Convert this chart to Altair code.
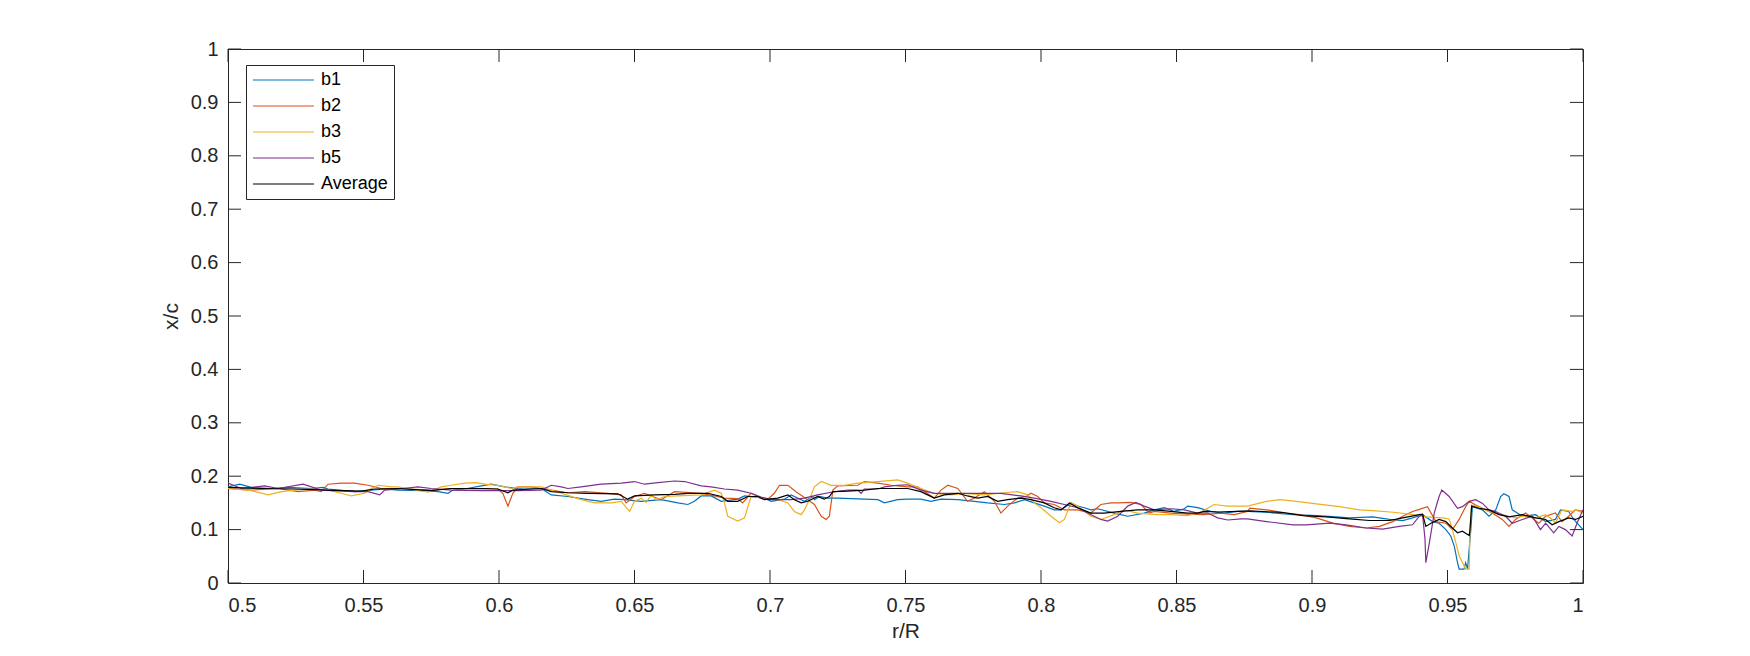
import altair as alt
import pandas as pd

# ---------------- data ----------------
series_names = ["b1", "b2", "b3", "b5", "Average"]
series_colors = ["#0072BD", "#D95319", "#EDB120", "#7E2F8E", "#000000"]

x_ticks = [0.5, 0.55, 0.6, 0.65, 0.7, 0.75, 0.8, 0.85, 0.9, 0.95, 1.0]
y_ticks = [0, 0.1, 0.2, 0.3, 0.4, 0.5, 0.6, 0.7, 0.8, 0.9, 1.0]

b1_r = [0.5, 0.5043, 0.5086, 0.516, 0.5221, 0.5308, 0.5351, 0.5369, 0.5467, 0.5529, 0.5578,
        0.5627, 0.5725, 0.5775, 0.5812, 0.583, 0.5873, 0.5935, 0.5971, 0.6021, 0.607, 0.6094, 0.6156, 0.6193, 0.6254,
        0.6328, 0.6377, 0.6426, 0.6463, 0.6525, 0.6598, 0.666, 0.6697, 0.6721, 0.6746, 0.6783, 0.682, 0.6881,
        0.6906, 0.6979, 0.7004, 0.7053, 0.7078, 0.7127, 0.7158, 0.7164, 0.7182, 0.7213, 0.725, 0.7348, 0.7398, 0.7422, 0.7471, 0.7508,
        0.7557, 0.7594, 0.7631, 0.7693, 0.7754, 0.7803, 0.7865, 0.7902, 0.7939, 0.7975, 0.8012, 0.8049, 0.8074, 0.8111, 0.8135,
        0.816, 0.8184, 0.8209, 0.827, 0.832, 0.8381, 0.8418, 0.8455, 0.8492, 0.8529, 0.8541, 0.8578, 0.8627, 0.8676, 0.8725, 0.8762,
        0.8844, 0.893, 0.9016, 0.9089, 0.9138, 0.9224, 0.9286, 0.9335, 0.9371, 0.9408,
        0.9445, 0.9469, 0.9494, 0.9512, 0.9525, 0.9537, 0.9543, 0.9561, 0.9567, 0.9574,
        0.9586, 0.9592, 0.9629, 0.9653, 0.9678, 0.9696, 0.9708, 0.9727, 0.9739, 0.9776,
        0.9825, 0.9862, 0.9898, 0.9917, 0.9947, 0.9966, 1.0]
b1_v = [0.180, 0.185, 0.179, 0.177, 0.179, 0.177, 0.179, 0.176, 0.171, 0.174, 0.176,
        0.174, 0.173, 0.171, 0.168, 0.174, 0.176, 0.182, 0.185, 0.180, 0.177, 0.176, 0.177, 0.165, 0.162,
        0.156, 0.153, 0.157, 0.156, 0.153, 0.156, 0.150, 0.147, 0.153, 0.163, 0.163, 0.153, 0.157,
        0.163, 0.159, 0.153, 0.157, 0.165, 0.153, 0.162, 0.156, 0.162, 0.159, 0.159, 0.157, 0.156, 0.150, 0.156, 0.157,
        0.157, 0.153, 0.157, 0.156, 0.153, 0.150, 0.147, 0.150, 0.156, 0.150, 0.144, 0.137, 0.137, 0.150, 0.144,
        0.141, 0.137, 0.139, 0.131, 0.125, 0.131, 0.137, 0.141, 0.134, 0.139, 0.144, 0.141, 0.134, 0.131, 0.134, 0.134,
        0.132, 0.128, 0.126, 0.124, 0.122, 0.124, 0.119, 0.117, 0.122, 0.128,
        0.115, 0.112, 0.100, 0.088, 0.069, 0.038, 0.026, 0.026, 0.038, 0.026,
        0.100, 0.143, 0.137, 0.125, 0.137, 0.162, 0.167, 0.162, 0.137, 0.125,
        0.128, 0.115, 0.119, 0.137, 0.134, 0.119, 0.100]

b2_r = [0.5, 0.5086, 0.5185, 0.5258, 0.532, 0.5344, 0.5369, 0.5418, 0.5467, 0.5517, 0.5566,
        0.5627, 0.575, 0.5824, 0.5935, 0.5996, 0.6014, 0.6033, 0.6051, 0.607, 0.6119, 0.6156, 0.6205, 0.6254,
        0.6316, 0.6402, 0.6451, 0.6469, 0.65, 0.6537, 0.6598, 0.6648, 0.6746, 0.6795, 0.6832, 0.6881,
        0.6899, 0.693, 0.6967, 0.6992, 0.7016, 0.7035, 0.7066, 0.7096, 0.7139, 0.7164, 0.7189, 0.7207, 0.7219, 0.7232,
        0.725, 0.7324, 0.7348, 0.7398, 0.7447, 0.7508,
        0.7545, 0.7606, 0.7631, 0.7656, 0.7693, 0.7729, 0.7754, 0.7791, 0.7828, 0.7852, 0.7877, 0.7914, 0.7945,
        0.7963, 0.7988, 0.8012, 0.8049, 0.8086, 0.8135,
        0.8184, 0.8221, 0.8258, 0.8283, 0.8332, 0.8369, 0.8399, 0.8418, 0.8479, 0.8541, 0.8602, 0.8664, 0.8713, 0.8762,
        0.8771, 0.8832, 0.8906, 0.8955, 0.9016, 0.9077, 0.9138, 0.92, 0.9249, 0.9298,
        0.9335, 0.9371, 0.9396, 0.9426, 0.9457, 0.9494, 0.9518, 0.9543, 0.9567, 0.958,
        0.9604, 0.9641, 0.9665, 0.9702, 0.9727, 0.9751, 0.9788, 0.9837, 0.9862, 0.9898,
        0.9923, 0.9947, 0.9972, 1.0]
b2_v = [0.177, 0.174, 0.177, 0.171, 0.174, 0.171, 0.185, 0.187, 0.187, 0.183, 0.177,
        0.177, 0.174, 0.177, 0.176, 0.176, 0.168, 0.144, 0.168, 0.180, 0.180, 0.177, 0.173, 0.169,
        0.171, 0.168, 0.165, 0.150, 0.162, 0.168, 0.156, 0.171, 0.168, 0.163, 0.159, 0.158,
        0.150, 0.168, 0.159, 0.157, 0.168, 0.183, 0.183, 0.171, 0.156, 0.147, 0.125, 0.119, 0.125, 0.174,
        0.182, 0.183, 0.190, 0.187, 0.183, 0.180,
        0.180, 0.159, 0.174, 0.183, 0.177, 0.153, 0.159, 0.171, 0.153, 0.131, 0.144, 0.159, 0.162,
        0.168, 0.162, 0.150, 0.147, 0.137, 0.137,
        0.131, 0.147, 0.150, 0.150, 0.151, 0.147, 0.131, 0.134, 0.131, 0.129, 0.128, 0.131, 0.128, 0.134,
        0.140, 0.137, 0.131, 0.128, 0.122, 0.112, 0.106, 0.103, 0.106, 0.115,
        0.125, 0.134, 0.138, 0.143, 0.115, 0.112, 0.100, 0.119, 0.143, 0.153,
        0.146, 0.137, 0.131, 0.119, 0.106, 0.119, 0.131, 0.112, 0.125, 0.131,
        0.115, 0.125, 0.137, 0.134]

b3_r = [0.5, 0.5086, 0.5148, 0.5197, 0.5246, 0.5308, 0.5369, 0.5418, 0.5455, 0.5504, 0.5529, 0.5554, 0.5603,
        0.5627, 0.5738, 0.5787, 0.5824, 0.5873, 0.5916, 0.5947, 0.5996, 0.6045, 0.607, 0.6156, 0.6193, 0.623,
        0.6254, 0.6303, 0.6352, 0.6414, 0.6451, 0.6482, 0.65, 0.6525, 0.6543, 0.6562, 0.658, 0.6611, 0.666,
        0.6746, 0.6795, 0.682, 0.6832, 0.6844, 0.6881,
        0.6906, 0.693, 0.6979, 0.7029, 0.7066, 0.709, 0.7115, 0.7127, 0.7145, 0.7164, 0.7189, 0.7225, 0.7275,
        0.7324, 0.7398, 0.7471, 0.7508,
        0.7557, 0.7606, 0.7668, 0.7717, 0.7791, 0.7865, 0.7914, 0.7951, 0.7975, 0.8, 0.8037, 0.8068, 0.8086,
        0.8111, 0.8135,
        0.8184, 0.8221, 0.827, 0.8307, 0.8356, 0.843, 0.8479, 0.8541, 0.859, 0.8639, 0.8688, 0.8762,
        0.8832, 0.8881, 0.8942, 0.9016, 0.9102, 0.9175, 0.9237, 0.931, 0.9371, 0.942,
        0.9482, 0.9506, 0.9518, 0.9531, 0.9543, 0.9567, 0.958, 0.9583, 0.9589, 0.9629,
        0.9653, 0.9702, 0.9751, 0.9776, 0.9825, 0.9862, 0.9886, 0.9898, 0.9923, 0.996,
        0.9972, 1.0]
b3_v = [0.177, 0.173, 0.165, 0.171, 0.174, 0.176, 0.174, 0.168, 0.163, 0.168, 0.177, 0.183, 0.180,
        0.180, 0.170, 0.180, 0.183, 0.187, 0.188, 0.185, 0.183, 0.177, 0.180, 0.180, 0.174, 0.168,
        0.164, 0.156, 0.150, 0.150, 0.153, 0.134, 0.153, 0.159, 0.151, 0.165, 0.156, 0.162, 0.163,
        0.165, 0.174, 0.168, 0.150, 0.125, 0.116,
        0.122, 0.162, 0.159, 0.156, 0.150, 0.134, 0.128, 0.137, 0.156, 0.180, 0.190, 0.183, 0.183,
        0.187, 0.190, 0.193, 0.187,
        0.177, 0.168, 0.165, 0.168, 0.165, 0.169, 0.171, 0.165, 0.150, 0.141, 0.125, 0.113, 0.119,
        0.150, 0.144,
        0.125, 0.119, 0.128, 0.137, 0.131, 0.128, 0.128, 0.126, 0.133, 0.147, 0.144, 0.144,
        0.153, 0.156, 0.153, 0.148, 0.143, 0.137, 0.135, 0.132, 0.128, 0.124,
        0.122, 0.120, 0.100, 0.075, 0.051, 0.026, 0.026, 0.100, 0.146, 0.140,
        0.134, 0.128, 0.122, 0.125, 0.122, 0.128, 0.119, 0.112, 0.137, 0.134,
        0.137, 0.131]

b5_r = [0.5, 0.5049, 0.5135, 0.5185, 0.5277, 0.5344, 0.5467, 0.5517, 0.556, 0.5578, 0.5627,
        0.5701, 0.575, 0.5824, 0.5935, 0.607, 0.6156, 0.6193, 0.623, 0.6254,
        0.6303, 0.6377, 0.6451, 0.65, 0.6537, 0.6586, 0.6648, 0.6685, 0.6746, 0.6783, 0.6832, 0.6881,
        0.693, 0.6967, 0.7004, 0.7078, 0.7127, 0.7176, 0.7225, 0.7287, 0.7324, 0.7336, 0.7348, 0.7398,
        0.7422, 0.7471, 0.7508,
        0.7557, 0.7606, 0.7693, 0.7791, 0.7852, 0.7926, 0.7975, 0.8037, 0.8086, 0.8135,
        0.8172, 0.8221, 0.8246, 0.8283, 0.832, 0.835, 0.8381, 0.8418, 0.8479, 0.8529, 0.8578, 0.8615,
        0.8652, 0.8689, 0.8738, 0.8762,
        0.8832, 0.893, 0.8979, 0.9065, 0.9126, 0.92, 0.9261, 0.9322, 0.9371, 0.9396,
        0.9408, 0.9417, 0.942, 0.9433, 0.9451, 0.9469, 0.9479, 0.9506, 0.9537, 0.9555,
        0.958, 0.9604, 0.9629, 0.9653, 0.9678, 0.9714, 0.9739, 0.9776, 0.9813, 0.9843,
        0.9862, 0.9892, 0.9911, 0.9935, 0.996, 0.9978, 1.0]
b5_v = [0.187, 0.177, 0.182, 0.177, 0.185, 0.174, 0.171, 0.171, 0.165, 0.174, 0.176,
        0.180, 0.177, 0.174, 0.173, 0.173, 0.174, 0.183, 0.180, 0.177,
        0.180, 0.185, 0.187, 0.190, 0.185, 0.188, 0.191, 0.190, 0.182, 0.180, 0.176, 0.174,
        0.168, 0.161, 0.156, 0.156, 0.159, 0.165, 0.170, 0.174, 0.174, 0.168, 0.176, 0.176,
        0.180, 0.183, 0.184,
        0.174, 0.168, 0.168, 0.168, 0.168, 0.163, 0.159, 0.153, 0.147, 0.141,
        0.131, 0.119, 0.116, 0.125, 0.144, 0.151, 0.144, 0.137, 0.139, 0.137, 0.131, 0.131,
        0.122, 0.118, 0.120, 0.120,
        0.115, 0.109, 0.109, 0.112, 0.109, 0.103, 0.101, 0.106, 0.109, 0.125,
        0.128, 0.082, 0.038, 0.075, 0.131, 0.162, 0.174, 0.162, 0.140, 0.143,
        0.153, 0.156, 0.149, 0.137, 0.134, 0.125, 0.112, 0.119, 0.125, 0.100,
        0.112, 0.094, 0.106, 0.100, 0.088, 0.112, 0.137]

avg_r = [0.5, 0.5123, 0.5246, 0.5369, 0.5492, 0.5541, 0.5627,
         0.575, 0.5824, 0.5947, 0.5996, 0.6033, 0.6051, 0.6119, 0.6156, 0.6193, 0.6254,
         0.6328, 0.6439, 0.6475, 0.65, 0.6574, 0.6648, 0.6697, 0.6771, 0.682, 0.6844, 0.6881,
         0.6918, 0.6955, 0.6979, 0.7029, 0.7066, 0.709, 0.7115, 0.7139, 0.7176, 0.72, 0.7219, 0.7232,
         0.7287, 0.7348, 0.7398, 0.7508,
         0.7557, 0.7606, 0.7643, 0.7693, 0.7729, 0.7766, 0.7803, 0.784, 0.7877, 0.7926, 0.7963, 0.8012,
         0.8049, 0.8074, 0.8105, 0.8135,
         0.8184, 0.8233, 0.8295, 0.8356, 0.8418, 0.8479, 0.8541, 0.8578, 0.8602, 0.8652, 0.8725,
         0.8771, 0.8893, 0.8967, 0.9053, 0.9138, 0.9212, 0.9286, 0.9335, 0.9396, 0.9408,
         0.942, 0.9439, 0.9469, 0.9494, 0.9518, 0.9537, 0.9555, 0.958, 0.9583, 0.9589,
         0.9616, 0.9653, 0.969, 0.9727, 0.9776, 0.9825, 0.9862, 0.9886, 0.9911, 0.9947,
         0.9972, 1.0]
avg_v = [0.179, 0.177, 0.176, 0.174, 0.172, 0.176, 0.177,
         0.173, 0.177, 0.177, 0.176, 0.169, 0.174, 0.176, 0.177, 0.171, 0.169,
         0.168, 0.167, 0.157, 0.163, 0.165, 0.166, 0.168, 0.168, 0.162, 0.153, 0.153,
         0.162, 0.162, 0.156, 0.159, 0.165, 0.156, 0.150, 0.153, 0.162, 0.157, 0.162, 0.171,
         0.172, 0.174, 0.177, 0.177,
         0.171, 0.159, 0.165, 0.168, 0.163, 0.159, 0.162, 0.153, 0.156, 0.159, 0.156, 0.150,
         0.141, 0.137, 0.150, 0.141,
         0.131, 0.131, 0.134, 0.137, 0.137, 0.134, 0.131, 0.131, 0.134, 0.133, 0.134,
         0.135, 0.132, 0.126, 0.124, 0.120, 0.117, 0.117, 0.122, 0.128, 0.129,
         0.106, 0.112, 0.119, 0.115, 0.103, 0.094, 0.097, 0.089, 0.100, 0.144,
         0.140, 0.137, 0.128, 0.124, 0.128, 0.122, 0.119, 0.109, 0.115, 0.122,
         0.119, 0.125]

# ---------------- build the table ----------------
rows = []
for name, rs, vs in [("b1", b1_r, b1_v), ("b2", b2_r, b2_v), ("b3", b3_r, b3_v),
                     ("b5", b5_r, b5_v), ("Average", avg_r, avg_v)]:
    for r, v in zip(rs, vs, strict=True):
        rows.append({"r": r, "v": v, "series": name})
df = pd.DataFrame(rows)

W, H = 1355, 534
TICK = 13
AXIS_COLOR = "#262626"
FONT = "Liberation Sans"

xscale = alt.Scale(domain=[0.5, 1.0], nice=False, zero=False)
yscale = alt.Scale(domain=[0.0, 1.0], nice=False, zero=False)

x_axis = alt.Axis(values=x_ticks, format="~g", title="r/R", tickSize=0,
                  domain=False, grid=False, labelPadding=12, titlePadding=5,
                  labelFontSize=20, titleFontSize=21)
y_axis = alt.Axis(values=y_ticks, format="~g", title="x/c", tickSize=0,
                  domain=False, grid=False, labelPadding=10, titlePadding=9,
                  labelFontSize=20, titleFontSize=21)

lines = alt.Chart(df).mark_line(strokeWidth=1.2, clip=True).encode(
    x=alt.X("r:Q", scale=xscale, axis=x_axis),
    y=alt.Y("v:Q", scale=yscale, axis=y_axis),
    color=alt.Color("series:N",
                    scale=alt.Scale(domain=series_names, range=series_colors),
                    sort=series_names,
                    legend=alt.Legend(title=None, orient="none", legendX=18, legendY=16,
                                      symbolType="stroke", symbolSize=3721,
                                      symbolStrokeWidth=1.2, clipHeight=18,
                                      labelFont=FONT, labelFontSize=18,
                                      labelColor="#000000",
                                      strokeColor=AXIS_COLOR, fillColor="#ffffff",
                                      padding=6, rowPadding=8, labelOffset=6,
                                      symbolOffset=0)),
)

xt = pd.DataFrame({"t": x_ticks})
yt = pd.DataFrame({"t": y_ticks})
rule = dict(color=AXIS_COLOR, strokeWidth=1)

x_bottom = alt.Chart(xt).mark_rule(**rule).encode(
    x=alt.X("t:Q", scale=xscale, axis=x_axis), y=alt.value(H), y2=alt.value(H - TICK))
x_top = alt.Chart(xt).mark_rule(**rule).encode(
    x=alt.X("t:Q", scale=xscale, axis=x_axis), y=alt.value(0), y2=alt.value(TICK))
y_left = alt.Chart(yt).mark_rule(**rule).encode(
    y=alt.Y("t:Q", scale=yscale, axis=y_axis), x=alt.value(0), x2=alt.value(TICK))
y_right = alt.Chart(yt).mark_rule(**rule).encode(
    y=alt.Y("t:Q", scale=yscale, axis=y_axis), x=alt.value(W), x2=alt.value(W - TICK))

chart = alt.layer(lines, x_bottom, x_top, y_left, y_right).properties(
    width=W, height=H,
    autosize=alt.AutoSizeParams(type="none"),
    padding={"left": 220, "top": 41, "right": 150, "bottom": 62},
    background="#ffffff",
).configure_view(
    stroke=AXIS_COLOR, strokeWidth=1
).configure_axis(
    labelFont=FONT, titleFont=FONT, labelColor=AXIS_COLOR, titleColor=AXIS_COLOR,
    titleFontWeight="normal"
)

chart.save("out.html", embed_options={"renderer": "svg", "actions": False})
